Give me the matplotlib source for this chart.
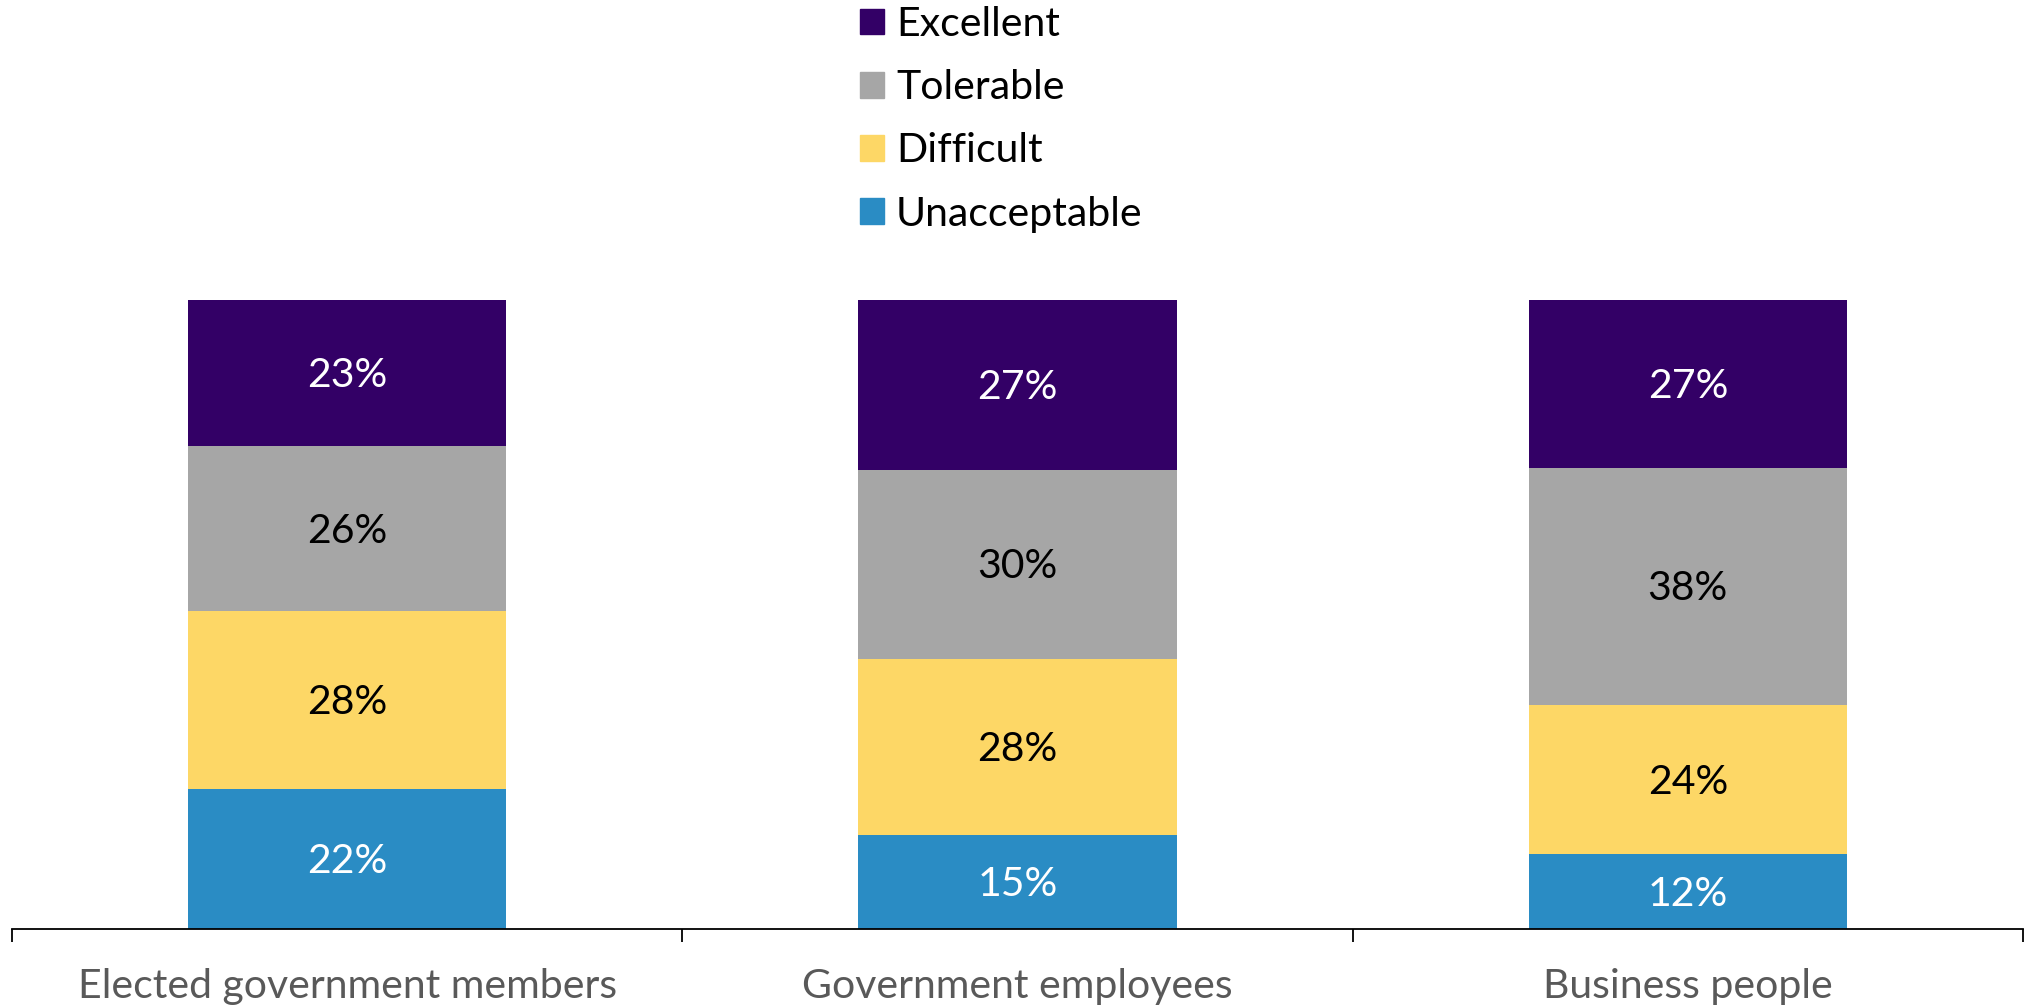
import matplotlib
matplotlib.use("Agg")
import matplotlib.pyplot as plt
from matplotlib.patches import Patch
import numpy as np

plt.rcParams['font.family'] = ['Lato', 'DejaVu Sans']

categories = ["Elected government members", "Government employees", "Business people"]
series = ["Unacceptable", "Difficult", "Tolerable", "Excellent"]
unacceptable = [22, 15, 12]
difficult = [28, 28, 24]
tolerable = [26, 30, 38]
excellent = [23, 27, 27]
colors = ["#2A8CC4", "#FDD766", "#A6A6A6", "#330066"]
text_colors = ["white", "black", "black", "white"]

values = np.array([unacceptable, difficult, tolerable, excellent], dtype=float)
shares = values / values.sum(axis=0) * 100

fig = plt.figure(figsize=(20.31, 10.06), dpi=100)
ax = fig.add_axes([12 / 2031, 77 / 1006, (2023 - 12) / 2031, 0.6253])

x = np.arange(len(categories))
bottom = np.zeros(len(categories))
for i, name in enumerate(series):
    bars = ax.bar(x, shares[i], 0.475, bottom=bottom, color=colors[i], label=name)
    for j, b in enumerate(bars):
        ax.text(b.get_x() + b.get_width() / 2, bottom[j] + shares[i][j] / 2 - 0.4,
                f"{int(values[i][j])}%", ha="center", va="center",
                color=text_colors[i], fontsize=29.5)
    bottom += shares[i]

ax.set_xlim(-0.5, len(categories) - 0.5)
ax.set_ylim(0, 100)
ax.set_yticks([])
for s in ["left", "right", "top"]:
    ax.spines[s].set_visible(False)
ax.spines["bottom"].set_linewidth(1.3)
ax.set_xticks(np.arange(-0.5, len(categories)), labels=[])
ax.tick_params(axis="x", which="major", length=9, width=1.3, direction="out")
ax.set_xticks(x, minor=True)
ax.set_xticklabels(categories, minor=True, fontsize=29.5, color="#595959")
ax.tick_params(axis="x", which="minor", length=0, pad=28)

handles = [Patch(color=colors[i], label=series[i]) for i in reversed(range(len(series)))]
fig.legend(handles=handles, loc="upper left", bbox_to_anchor=(860 / 2031, 1 - 6 / 1006),
           frameon=False, fontsize=29.5, handlelength=0.58, handleheight=0.58,
           handletextpad=0.3, labelspacing=0.64, borderpad=0, borderaxespad=0)

fig.savefig("out.png", dpi=100)
